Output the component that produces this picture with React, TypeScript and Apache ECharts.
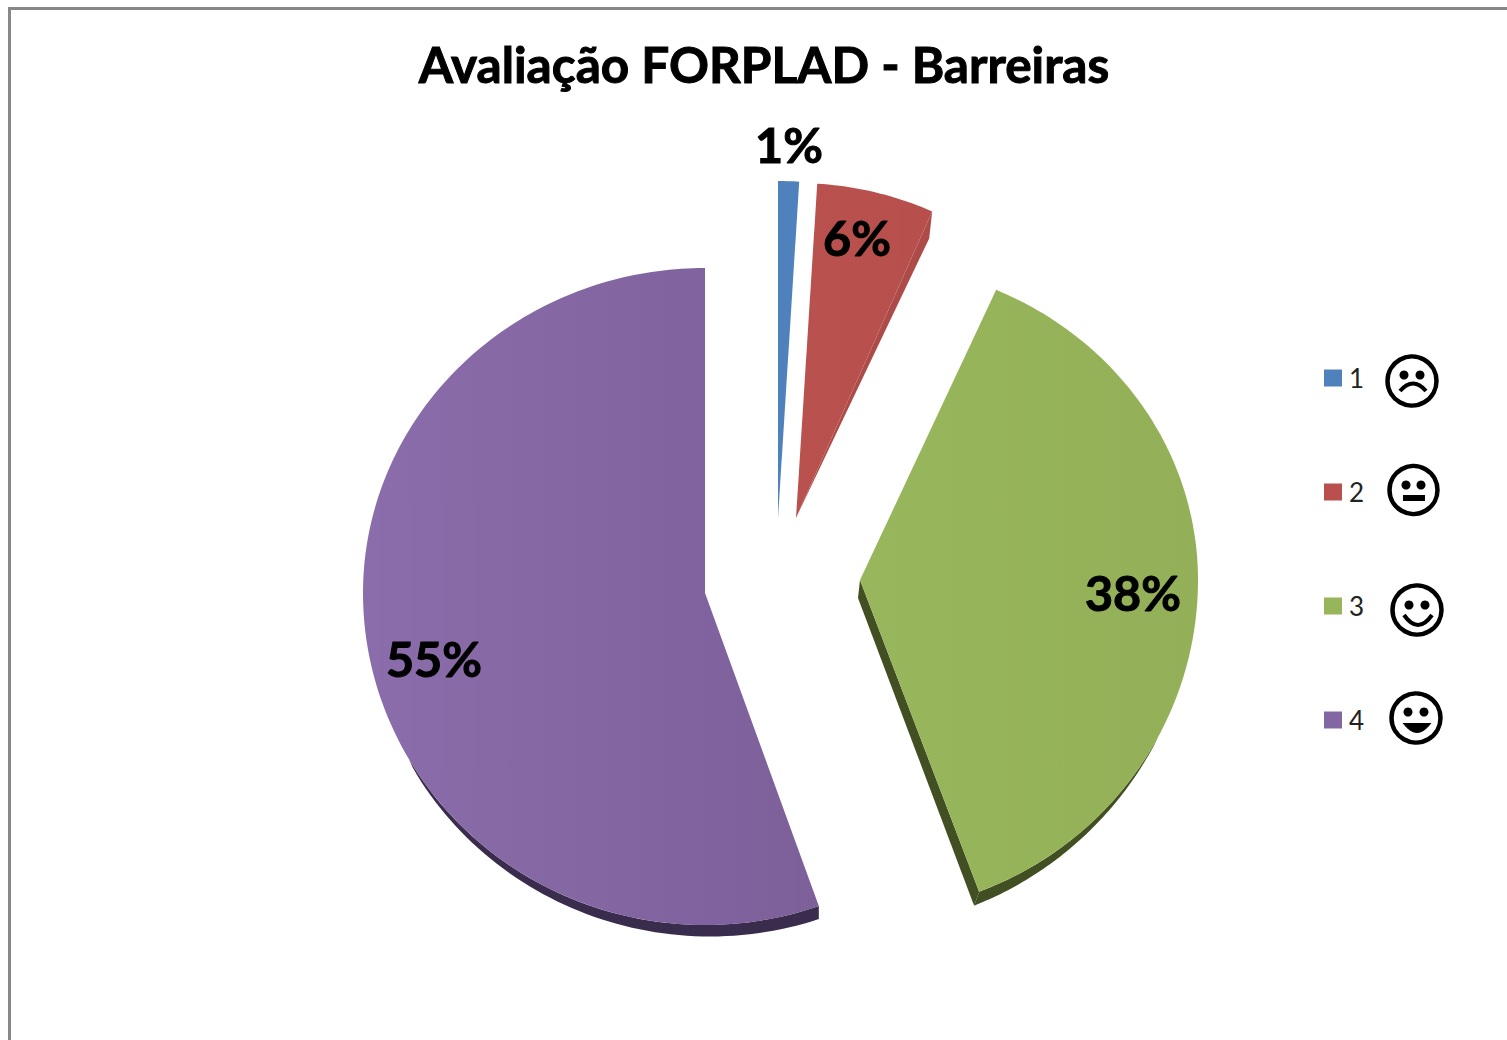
import React, { useEffect, useRef } from "react";
import * as echarts from "echarts";

// ---- data ----
const categories = ["1", "2", "3", "4"];
const shares = [1.0, 5.6, 38.0, 55.4];
const sliceColors = ["#4f81bd", "#b9504e", "#97b55a", "#8267a2"];
const TITLE = "Avaliação FORPLAD - Barreiras";

// ---- layout of the exploded, slightly tilted pie ----
const FONT = "Lato, 'Open Sans', sans-serif";
type Pt = [number, number];
interface SliceLayout {
  apex: Pt; rx: number; ryTop: number; ryBottom: number;
  label: Pt;
  fill: [string, string];
  endNudge?: number;
  rim?: { edge: "start" | "end"; offset: Pt; fadeAngle: number; color: string };
  side?: { edge: "start" | "end"; apexOffset: Pt; tipOffset: Pt; color: string };
}
const sliceLayouts: SliceLayout[] = [
  { apex: [778, 518], rx: 338, ryTop: 337, ryBottom: 337, label: [789, 144], fill: ["#4f81bd", "#4f81bd"] },
  {
    apex: [796, 518], rx: 338, ryTop: 335, ryBottom: 335, label: [857, 237], fill: ["#b9514e", "#b74f4c"],
    side: { edge: "end", apexOffset: [0, 0], tipOffset: [-3, 27], color: "#ad4b48" },
  },
  {
    apex: [860, 580], rx: 338, ryTop: 317, ryBottom: 333, label: [1133, 592], fill: ["#98b65b", "#93b058"],
    endNudge: -1.2,
    rim: { edge: "end", offset: [-5, 14], fadeAngle: 118, color: "#414f22" },
    side: { edge: "end", apexOffset: [-2, 18], tipOffset: [-5, 14], color: "#414f22" },
  },
  {
    apex: [705, 593], rx: 342, ryTop: 325, ryBottom: 332, label: [434, 658], fill: ["#8a6daa", "#7d5f9a"],
    rim: { edge: "start", offset: [0, 13], fadeAngle: 240, color: "#3a2c4d" },
  },
];

const total = shares.reduce((a, b) => a + b, 0);
const startAngle = (i: number) => (shares.slice(0, i).reduce((a, b) => a + b, 0) / total) * 360;

function rimPoint(l: SliceLayout, deg: number): Pt {
  const t = (deg * Math.PI) / 180;
  const c = Math.cos(t);
  return [l.apex[0] + l.rx * Math.sin(t), l.apex[1] - (c > 0 ? l.ryTop : l.ryBottom) * c];
}

function renderSlice(index: number) {
  return (_params: any, api: any) => {
    const l = sliceLayouts[index];
    const value = api.value(0) as number;
    const a0 = startAngle(index);
    const a1 = a0 + (value / total) * 360 + (l.endNudge || 0);
    const points: Pt[] = [l.apex];
    const steps = Math.max(2, Math.ceil(a1 - a0));
    for (let s = 0; s <= steps; s++) points.push(rimPoint(l, a0 + ((a1 - a0) * s) / steps));
    const children: any[] = [];
    if (l.rim) {
      const tipAngle = l.rim.edge === "end" ? a1 : a0;
      const fade = l.rim.fadeAngle;
      const upper: Pt[] = [];
      const lower: Pt[] = [];
      for (let s = 0; s <= 60; s++) {
        const t = s / 60;
        const p = rimPoint(l, fade + (tipAngle - fade) * t);
        const k = Math.pow(t, 0.45);
        upper.push(p);
        lower.unshift([p[0] + l.rim.offset[0] * k, p[1] + l.rim.offset[1] * k]);
      }
      children.push({
        type: "polygon",
        shape: { points: [...upper, ...lower] },
        style: { fill: l.rim.color },
      });
    }
    if (l.side) {
      const tip = rimPoint(l, l.side.edge === "end" ? a1 : a0);
      children.push({
        type: "polygon",
        shape: {
          points: [
            l.apex,
            [l.apex[0] + l.side.apexOffset[0], l.apex[1] + l.side.apexOffset[1]],
            [tip[0] + l.side.tipOffset[0], tip[1] + l.side.tipOffset[1]],
            tip,
          ],
        },
        style: { fill: l.side.color },
      });
    }
    children.push({
      type: "polygon",
      shape: { points },
      style: {
        fill: new echarts.graphic.LinearGradient(0, 0, 1, 0, [
          { offset: 0, color: l.fill[0] },
          { offset: 1, color: l.fill[1] },
        ]),
      },
    });
    children.push({
      type: "text",
      z2: 10,
      style: {
        text: `${Math.round((value / total) * 100)}%`,
        x: l.label[0],
        y: l.label[1],
        align: "center",
        verticalAlign: "middle",
        fill: "#000",
        stroke: "#000",
        lineWidth: 1,
        fontFamily: FONT,
        fontWeight: "bold",
        fontSize: 48.5,
      },
    });
    return { type: "group", children };
  };
}

// ---- smiley faces beside the legend ----
const black = "#000";
function face(cx: number, cy: number, r: number, eyeY: number, eyeDx: number, mouth: any) {
  return {
    type: "group",
    children: [
      { type: "circle", shape: { cx, cy, r }, style: { fill: "#fff", stroke: black, lineWidth: 4.5 } },
      { type: "circle", shape: { cx: cx - eyeDx, cy: eyeY, r: 4.5 }, style: { fill: black } },
      { type: "circle", shape: { cx: cx + eyeDx, cy: eyeY, r: 4.5 }, style: { fill: black } },
      mouth,
    ],
  };
}
const faces = [
  face(1412, 381, 24.5, 375, 8, {
    type: "bezierCurve",
    shape: { x1: 1400, y1: 391, x2: 1426, y2: 391, cpx1: 1413, cpy1: 376 },
    style: { fill: "none", stroke: black, lineWidth: 4 },
  }),
  face(1413.5, 490, 24, 485, 7.5, {
    type: "rect",
    shape: { x: 1403, y: 495, width: 22, height: 6 },
    style: { fill: black },
  }),
  face(1417, 610, 24.5, 605, 8, {
    type: "bezierCurve",
    shape: { x1: 1404, y1: 615, x2: 1432, y2: 615, cpx1: 1418, cpy1: 635 },
    style: { fill: "none", stroke: black, lineWidth: 4 },
  }),
  face(1416, 718, 24.5, 712, 8, {
    type: "bezierCurve",
    shape: { x1: 1403, y1: 723, x2: 1431, y2: 723, cpx1: 1417, cpy1: 742 },
    style: { fill: black, stroke: black, lineWidth: 1 },
  }),
];

export default function App() {
  const ref = useRef<HTMLDivElement>(null);
  useEffect(() => {
    const chart = echarts.init(ref.current!, undefined, { renderer: "svg" });
    chart.setOption({
      animation: false,
      backgroundColor: "#fff",
      title: {
        text: TITLE,
        left: 759,
        top: 34,
        textAlign: "center",
        textStyle: {
          fontFamily: FONT,
          fontWeight: "bold",
          fontSize: 49.5,
          color: "#000",
          textBorderColor: "#000",
          textBorderWidth: 1,
        },
      },
      legend: {
        orient: "vertical",
        left: 1324,
        top: 365,
        icon: "rect",
        itemWidth: 18,
        itemHeight: 17,
        itemGap: 88,
        padding: 0,
        data: categories,
        textStyle: { fontFamily: FONT, fontSize: 26, color: "#222", lineHeight: 17, padding: [0, 0, 0, 2] },
        selectedMode: false,
      },
      graphic: [
        { type: "rect", shape: { x: 8, y: 7, width: 1499, height: 3 }, style: { fill: "#888" } },
        { type: "rect", shape: { x: 8, y: 7, width: 3, height: 1033 }, style: { fill: "#888" } },
        ...faces,
      ],
      series: categories.map((name, i) => ({
        type: "custom",
        name,
        coordinateSystem: "none",
        itemStyle: { color: sliceColors[i] },
        data: [[shares[i]]],
        renderItem: renderSlice(i),
      })),
    });
    return () => chart.dispose();
  }, []);
  return <div ref={ref} style={{ position: "fixed", left: 0, top: 0, width: 1507, height: 1040 }} />;
}
